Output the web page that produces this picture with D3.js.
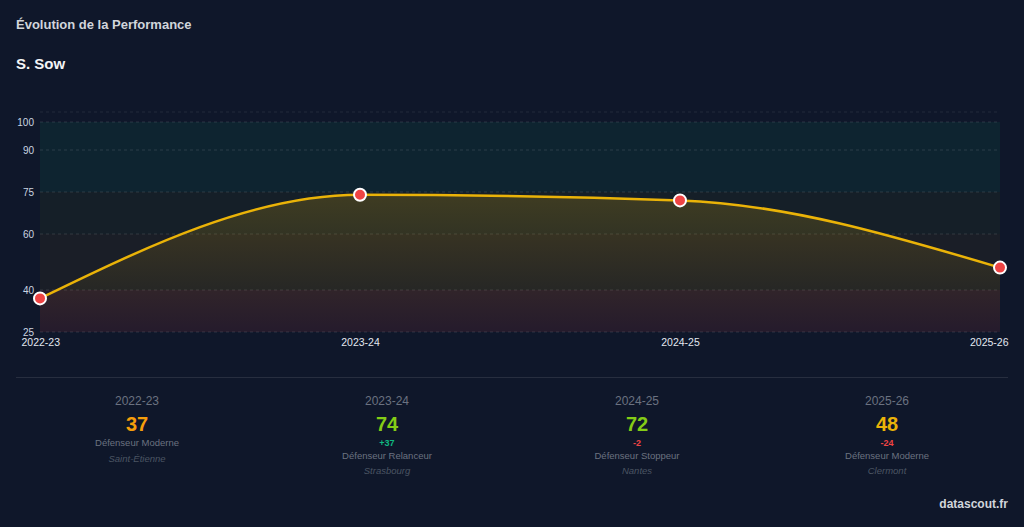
<!DOCTYPE html>
<html lang="fr">
	<head>
		<meta charset="utf-8">
		<title>Évolution de la Performance</title>
		<script type="text/javascript" src="https://cdn.jsdelivr.net/npm/d3@7"></script>
		<style type="text/css">
			html, body { margin: 0; padding: 0; background: #0f172a; }
			svg { display: block; font-family: "Liberation Sans", Arial, sans-serif; }
		</style>
	</head>

	<body>
		<script type="text/javascript">

		// chart size
		var w = 1024;
		var h = 527;

		// data
		var seasons = ["2022-23", "2023-24", "2024-25", "2025-26"];
		var scores = [37, 74, 72, 48];
		var roles = ["Défenseur Moderne", "Défenseur Relanceur", "Défenseur Stoppeur", "Défenseur Moderne"];
		var clubs = ["Saint-Étienne", "Strasbourg", "Nantes", "Clermont"];
		var yTicks = [25, 40, 60, 75, 90, 100];

		// background bands (score zones)
		var bandFrom = [75, 60, 40, 25];
		var bandTo = [100, 75, 60, 40];
		var bandColors = ["rgba(16,185,129,0.08)", "rgba(132,204,22,0.05)", "rgba(234,179,8,0.05)", "rgba(239,68,68,0.1)"];

		function scoreColor(v) {
			if (v >= 75) return "#10b981";
			if (v >= 60) return "#84cc16";
			if (v >= 45) return "#eab308";
			return "#f59e0b";
		}

		var svg = d3.select("body")
			.append("svg")
			.attr("width", w)
			.attr("height", h);

		// titles
		svg.append("text")
			.attr("x", 16).attr("y", 29)
			.attr("fill", "#d1d5db")
			.attr("font-size", 13).attr("font-weight", "bold")
			.text("Évolution de la Performance");

		svg.append("text")
			.attr("x", 16).attr("y", 69)
			.attr("fill", "#f3f4f6")
			.attr("font-size", 15).attr("font-weight", "bold")
			.text("S. Sow");

		// scales
		var x = d3.scalePoint()
			.domain(seasons)
			.range([40, 1000]);

		var y = d3.scaleLinear()
			.domain([25, 100])
			.range([332, 122]);

		var plot = svg.append("g");

		// bands
		plot.selectAll("rect.band")
			.data(bandFrom)
			.enter()
			.append("rect")
			.attr("class", "band")
			.attr("x", x.range()[0])
			.attr("width", x.range()[1] - x.range()[0])
			.attr("y", function(d, i) { return y(bandTo[i]); })
			.attr("height", function(d, i) { return y(bandFrom[i]) - y(bandTo[i]); })
			.attr("fill", function(d, i) { return bandColors[i]; });

		// grid
		plot.selectAll("line.grid")
			.data(yTicks)
			.enter()
			.append("line")
			.attr("x1", x.range()[0])
			.attr("x2", x.range()[1])
			.attr("y1", function(d) { return y(d); })
			.attr("y2", function(d) { return y(d); })
			.attr("stroke", "rgba(255,255,255,0.12)")
			.attr("stroke-dasharray", "3,3");

		// top dashed border
		plot.append("line")
			.attr("x1", x.range()[0])
			.attr("x2", x.range()[1])
			.attr("y1", y(100) - 10)
			.attr("y2", y(100) - 10)
			.attr("stroke", "rgba(255,255,255,0.08)")
			.attr("stroke-dasharray", "3,3");

		// area gradient
		var defs = svg.append("defs");
		var grad = defs.append("linearGradient")
			.attr("id", "areaGrad")
			.attr("gradientUnits", "userSpaceOnUse")
			.attr("x1", 0).attr("x2", 0)
			.attr("y1", y(80)).attr("y2", y(25));
		grad.append("stop").attr("offset", "0%").attr("stop-color", "#eab308").attr("stop-opacity", 0.22);
		grad.append("stop").attr("offset", "100%").attr("stop-color", "#eab308").attr("stop-opacity", 0.0);

		var area = d3.area()
			.x(function(d, i) { return x(seasons[i]); })
			.y0(y(25))
			.y1(function(d) { return y(d); })
			.curve(d3.curveMonotoneX);

		var line = d3.line()
			.x(function(d, i) { return x(seasons[i]); })
			.y(function(d) { return y(d); })
			.curve(d3.curveMonotoneX);

		plot.append("path")
			.datum(scores)
			.attr("d", area)
			.attr("fill", "url(#areaGrad)");

		plot.append("path")
			.datum(scores)
			.attr("d", line)
			.attr("fill", "none")
			.attr("stroke", "#eab308")
			.attr("stroke-width", 2.5);

		plot.selectAll("circle")
			.data(scores)
			.enter()
			.append("circle")
			.attr("cx", function(d, i) { return x(seasons[i]); })
			.attr("cy", function(d) { return y(d); })
			.attr("r", 6)
			.attr("fill", "#ef4444")
			.attr("stroke", "#ffffff")
			.attr("stroke-width", 2);

		// y axis
		var yAxis = svg.append("g")
			.attr("transform", "translate(34,0)")
			.call(d3.axisLeft(y).tickValues(yTicks).tickSize(0).tickPadding(0));
		yAxis.select(".domain").remove();
		yAxis.selectAll("text")
			.attr("fill", "#cbd5e1")
			.attr("font-size", 10)
			.attr("font-family", "Liberation Sans, Arial, sans-serif");

		// x axis
		var xAxis = svg.append("g")
			.attr("transform", "translate(0," + 339 + ")")
			.call(d3.axisBottom(x).tickSize(0).tickPadding(0));
		xAxis.select(".domain").remove();
		xAxis.selectAll("text")
			.attr("fill", "#e2e8f0")
			.attr("font-size", 10.5)
			.attr("dy", "0.71em")
			.attr("font-family", "Liberation Sans, Arial, sans-serif")
			.attr("text-anchor", function(d, i) {
				return i === 0 ? "start" : (i === seasons.length - 1 ? "end" : "middle");
			})
			.attr("dx", function(d, i) {
				return i === 0 ? -19 : (i === seasons.length - 1 ? 8 : 0);
			});

		// separator
		svg.append("line")
			.attr("x1", 16).attr("x2", 1008)
			.attr("y1", 377.5).attr("y2", 377.5)
			.attr("stroke", "rgba(255,255,255,0.1)");

		// season cards
		var cardX = d3.scaleBand()
			.domain(seasons)
			.range([12, 1012]);

		var cards = svg.selectAll("g.card")
			.data(seasons)
			.enter()
			.append("g")
			.attr("class", "card")
			.attr("transform", function(d) { return "translate(" + (cardX(d) + cardX.bandwidth() / 2) + ",0)"; })
			.attr("text-anchor", "middle");

		cards.append("text")
			.attr("y", 405)
			.attr("fill", "#6b7280")
			.attr("font-size", 12)
			.text(function(d) { return d; });

		cards.append("text")
			.attr("y", 431)
			.attr("fill", function(d, i) { return scoreColor(scores[i]); })
			.attr("font-size", 20)
			.attr("font-weight", "bold")
			.text(function(d, i) { return scores[i]; });

		cards.append("text")
			.attr("y", 446)
			.attr("font-size", 9)
			.attr("font-weight", "bold")
			.attr("fill", function(d, i) {
				return i > 0 && scores[i] - scores[i - 1] >= 0 ? "#10b981" : "#ef4444";
			})
			.text(function(d, i) {
				if (i === 0) return "";
				var diff = scores[i] - scores[i - 1];
				return (diff > 0 ? "+" : "") + diff;
			});

		cards.append("text")
			.attr("y", function(d, i) { return i === 0 ? 446 : 459; })
			.attr("fill", "#6b7280")
			.attr("font-size", 9.5)
			.text(function(d, i) { return roles[i]; });

		cards.append("text")
			.attr("y", function(d, i) { return i === 0 ? 462 : 474; })
			.attr("fill", "#4b5563")
			.attr("font-size", 9.5)
			.attr("font-style", "italic")
			.text(function(d, i) { return clubs[i]; });

		// watermark
		svg.append("text")
			.attr("x", 1008).attr("y", 508)
			.attr("text-anchor", "end")
			.attr("fill", "#d1d5db")
			.attr("font-size", 12)
			.attr("font-weight", "bold")
			.text("datascout.fr");

        </script>
	</body>
</html>
